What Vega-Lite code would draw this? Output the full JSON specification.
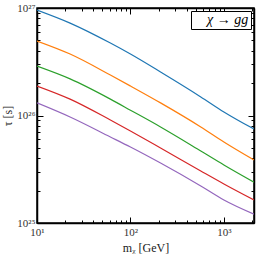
{
  "$schema": "https://vega.github.io/schema/vega-lite/v6.json",
  "width": 217,
  "height": 215,
  "autosize": "none",
  "padding": {"left": 37, "top": 8, "right": 5, "bottom": 31},
  "config": {
    "view": {"stroke": "black", "strokeWidth": 1.5},
    "font": "Liberation Serif",
    "axis": {"domainColor": "black", "domainWidth": 1.5, "tickColor": "black", "grid": false, "labelColor": "#333", "labelFont": "Liberation Serif", "labelFontSize": 11, "titleFont": "Liberation Serif", "titleFontWeight": "normal", "titleColor": "#222", "titleFontSize": 12, "labelOverlap": false, "labelFlush": false}
  },
  "data": {"values": [
    {"s": "a", "m": 10, "tau": 9.57e26}, {"s": "a", "m": 22.6, "tau": 7.24e26}, {"s": "a", "m": 61, "tau": 4.72e26}, {"s": "a", "m": 100, "tau": 3.73e26}, {"s": "a", "m": 210, "tau": 2.54e26}, {"s": "a", "m": 566, "tau": 1.49e26}, {"s": "a", "m": 1000, "tau": 1.08e26}, {"s": "a", "m": 2100, "tau": 7.48e25},
    {"s": "b", "m": 10, "tau": 4.93e26}, {"s": "b", "m": 22.6, "tau": 3.73e26}, {"s": "b", "m": 61, "tau": 2.38e26}, {"s": "b", "m": 100, "tau": 1.88e26}, {"s": "b", "m": 210, "tau": 1.31e26}, {"s": "b", "m": 566, "tau": 7.82e25}, {"s": "b", "m": 1000, "tau": 5.66e25}, {"s": "b", "m": 2100, "tau": 3.85e25},
    {"s": "c", "m": 10, "tau": 2.88e26}, {"s": "c", "m": 22.6, "tau": 2.19e26}, {"s": "c", "m": 61, "tau": 1.42e26}, {"s": "c", "m": 100, "tau": 1.12e26}, {"s": "c", "m": 210, "tau": 7.82e25}, {"s": "c", "m": 566, "tau": 4.68e25}, {"s": "c", "m": 1000, "tau": 3.47e25}, {"s": "c", "m": 2100, "tau": 2.40e25},
    {"s": "d", "m": 10, "tau": 1.88e26}, {"s": "d", "m": 22.6, "tau": 1.42e26}, {"s": "d", "m": 61, "tau": 9.08e25}, {"s": "d", "m": 100, "tau": 7.18e25}, {"s": "d", "m": 210, "tau": 4.99e25}, {"s": "d", "m": 566, "tau": 3.05e25}, {"s": "d", "m": 1000, "tau": 2.31e25}, {"s": "d", "m": 2100, "tau": 1.64e25},
    {"s": "e", "m": 10, "tau": 1.31e26}, {"s": "e", "m": 22.6, "tau": 9.68e25}, {"s": "e", "m": 61, "tau": 6.31e25}, {"s": "e", "m": 100, "tau": 5.09e25}, {"s": "e", "m": 210, "tau": 3.61e25}, {"s": "e", "m": 566, "tau": 2.21e25}, {"s": "e", "m": 1000, "tau": 1.64e25}, {"s": "e", "m": 2100, "tau": 1.21e25}
  ]},
  "layer": [
    {
      "mark": {"type": "line", "strokeWidth": 1.2, "interpolate": "monotone", "clip": true},
      "encoding": {
        "x": {"field": "m", "type": "quantitative",
          "scale": {"type": "log", "domain": [10, 2100], "nice": false},
          "axis": {"orient": "bottom", "title": "mᵪ [GeV]", "titlePadding": 2,
            "values": [10,20,30,40,50,60,70,80,90,100,200,300,400,500,600,700,800,900,1000,2000],
            "labelExpr": "datum.value == 10 ? '10¹' : datum.value == 100 ? '10²' : datum.value == 1000 ? '10³' : ''",
            "tickSize": {"condition": {"test": "datum.value == 10 || datum.value == 100 || datum.value == 1000", "value": -6}, "value": -3},
            "labelPadding": 9}},
        "y": {"field": "tau", "type": "quantitative",
          "scale": {"type": "log", "domain": [1e25, 1e27], "nice": false},
          "axis": {"orient": "left", "title": "τ [s]", "titlePadding": 2,
            "values": [1e25,2e25,3e25,4e25,5e25,6e25,7e25,8e25,9e25,1e26,2e26,3e26,4e26,5e26,6e26,7e26,8e26,9e26,1e27],
            "labelExpr": "datum.value == 1e25 ? '10²⁵' : datum.value == 1e26 ? '10²⁶' : datum.value == 1e27 ? '10²⁷' : ''",
            "tickSize": {"condition": {"test": "datum.value == 1e25 || datum.value == 1e26 || datum.value == 1e27", "value": -6}, "value": -3},
            "labelPadding": 8}},
        "color": {"field": "s", "type": "nominal", "legend": null,
          "scale": {"domain": ["a","b","c","d","e"], "range": ["#1f77b4","#ff7f0e","#2ca02c","#d62728","#9467bd"]}}
      }
    },
    {
      "mark": {"type": "point", "opacity": 0},
      "encoding": {
        "x": {"field": "m", "type": "quantitative",
          "axis": {"orient": "top", "title": null, "labels": false,
            "values": [10,20,30,40,50,60,70,80,90,100,200,300,400,500,600,700,800,900,1000,2000],
            "tickSize": {"condition": {"test": "datum.value == 10 || datum.value == 100 || datum.value == 1000", "value": -6}, "value": -3}}},
        "y": {"field": "tau", "type": "quantitative",
          "axis": {"orient": "right", "title": null, "labels": false,
            "values": [1e25,2e25,3e25,4e25,5e25,6e25,7e25,8e25,9e25,1e26,2e26,3e26,4e26,5e26,6e26,7e26,8e26,9e26,1e27],
            "tickSize": {"condition": {"test": "datum.value == 1e25 || datum.value == 1e26 || datum.value == 1e27", "value": -6}, "value": -3}}},
        "shape": {"datum": "χ → gg", "type": "nominal",
          "legend": {"orient": "top-right", "title": null, "offset": 3, "strokeColor": "black", "fillColor": "white", "padding": 2, "symbolSize": 0, "symbolOpacity": 0, "symbolStrokeWidth": 0, "labelOffset": 0, "labelFont": "Liberation Serif", "labelFontStyle": "italic", "labelFontSize": 14, "labelColor": "black", "cornerRadius": 0}}
      }
    }
  ],
  "resolve": {"axis": {"x": "independent", "y": "independent"}}
}
